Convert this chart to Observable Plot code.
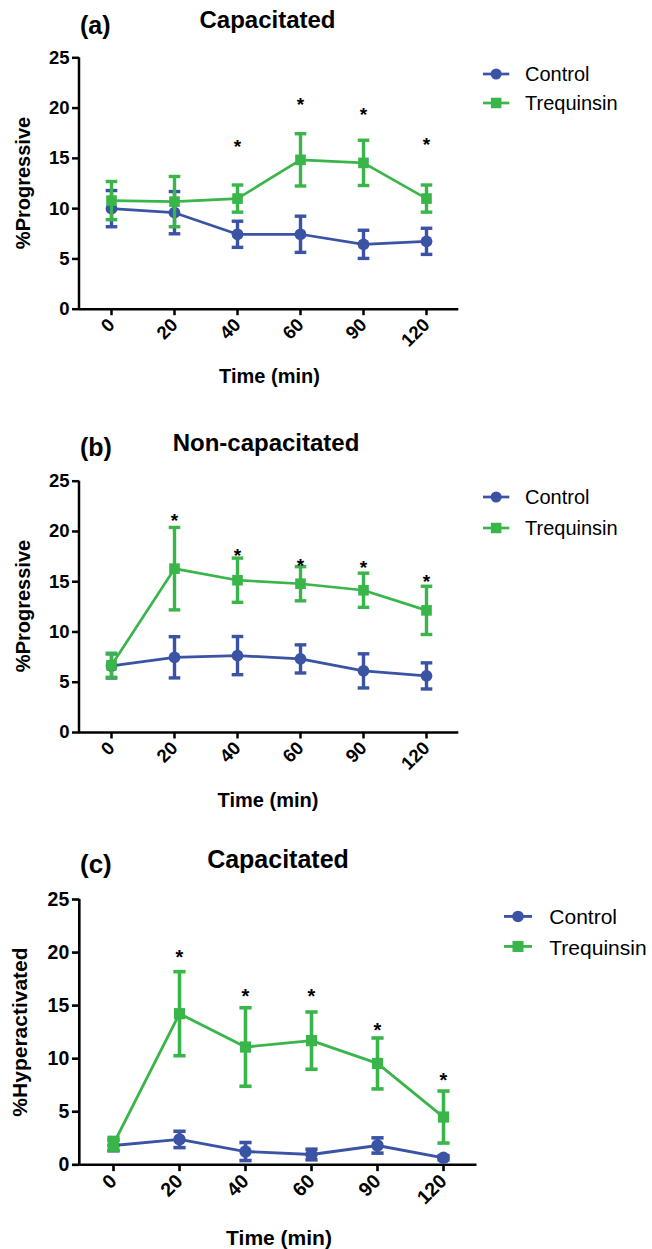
<!DOCTYPE html>
<html>
<head>
<meta charset="utf-8">
<script src="https://cdn.jsdelivr.net/npm/d3@7"></script>
<script src="https://cdn.jsdelivr.net/npm/@observablehq/plot@0.6"></script>
<style>
  html, body { margin: 0; padding: 0; background: #fff; }
  #root { position: relative; width: 652px; height: 1249px; overflow: hidden; font-family: "Liberation Sans", Arial, sans-serif; color: #000; }
  .t { position: absolute; white-space: nowrap; line-height: 1; transform: translate(-50%, -50%); }
  .tl { position: absolute; white-space: nowrap; line-height: 1; transform: translate(0, -50%); }
  .b { font-weight: bold; }
  .panel { position: absolute; left: 0; }
  .panel svg { overflow: visible; }
</style>
</head>
<body>
<div id="root"></div>
<script>
// ---------- data ----------
const times = ["0", "20", "40", "60", "90", "120"];
const groups = ["Control", "Trequinsin"];

// (a) Capacitated, %Progressive
const aControlMean = [10.0, 9.6, 7.45, 7.45, 6.45, 6.75];
const aControlErr  = [1.8, 2.1, 1.3, 1.8, 1.4, 1.3];
const aTreqMean    = [10.8, 10.7, 11.0, 14.85, 14.55, 11.0];
const aTreqErr     = [1.9, 2.5, 1.35, 2.6, 2.25, 1.35];
const aStars       = [null, null, 16.6, 20.75, 19.8, 16.8];

// (b) Non-capacitated, %Progressive
const bControlMean = [6.62, 7.48, 7.65, 7.32, 6.13, 5.63];
const bControlErr  = [1.2, 2.05, 1.9, 1.4, 1.7, 1.3];
const bTreqMean    = [6.69, 16.3, 15.15, 14.8, 14.15, 12.15];
const bTreqErr     = [1.2, 4.1, 2.2, 1.7, 1.7, 2.4];
const bStars       = [null, 21.55, 18.07, 17.0, 16.8, 15.4];

// (c) Capacitated, %Hyperactivated
const cControlMean = [1.82, 2.39, 1.25, 0.97, 1.82, 0.66];
const cControlErr  = [0.5, 0.77, 0.85, 0.5, 0.72, 0.2];
const cTreqMean    = [1.98, 14.24, 11.1, 11.7, 9.55, 4.5];
const cTreqErr     = [0.6, 3.96, 3.7, 2.7, 2.4, 2.45];
const cStars       = [null, 19.96, 16.35, 16.35, 13.08, 8.36];

const yTicks = [0, 5, 10, 15, 20, 25];
const xLabel = "Time (min)";

// ---------- styles ----------
const BLUE = "#3a53a4";
const GREEN = "#39b54a";
const FONT = "'Liberation Sans', Arial, sans-serif";

function rows(ctrlMean, ctrlErr, treqMean, treqErr) {
  const out = [];
  times.forEach((t, i) => out.push({time: t, group: groups[0], mean: ctrlMean[i], lo: ctrlMean[i] - ctrlErr[i], hi: ctrlMean[i] + ctrlErr[i]}));
  times.forEach((t, i) => out.push({time: t, group: groups[1], mean: treqMean[i], lo: treqMean[i] - treqErr[i], hi: treqMean[i] + treqErr[i]}));
  return out;
}
function starRows(stars) {
  return times.map((t, i) => ({time: t, y: stars[i]})).filter(d => d.y != null);
}

const capSymbol = {
  draw(context, size) {
    const r = Math.sqrt(size / Math.PI);
    context.moveTo(-r, 0);
    context.lineTo(r, 0);
  }
};

function seriesMarks(data, group, color, symbol, k) {
  const d = data.filter(r => r.group === group);
  return [
    Plot.line(d, {x: "time", y: "mean", stroke: color, strokeWidth: 2.7 * k}),
    Plot.ruleX(d, {x: "time", y1: "lo", y2: "hi", stroke: color, strokeWidth: 3.4 * k}),
    Plot.dot(d, {x: "time", y: "hi", symbol: capSymbol, r: 5.8 * k, stroke: color, strokeWidth: 3.4 * k, fill: "none"}),
    Plot.dot(d, {x: "time", y: "lo", symbol: capSymbol, r: 5.8 * k, stroke: color, strokeWidth: 3.4 * k, fill: "none"}),
    Plot.dot(d, {x: "time", y: "mean", symbol, r: (symbol === "square" ? 6.0 : 5.9) * k, fill: color, stroke: "none"})
  ];
}

// vertical y-axis line along the left edge of the frame, from y=0 to y=25
function yAxisLine(k) {
  return (index, scales, values, dimensions) => {
    const {marginLeft} = dimensions;
    const y0 = scales.y(0), y1 = scales.y(25);
    const g = d3.create("svg:g");
    g.append("line")
      .attr("x1", marginLeft).attr("x2", marginLeft)
      .attr("y1", y0 + 1.25 * k).attr("y2", y1)
      .attr("stroke", "#000").attr("stroke-width", 2.5 * k);
    return g.node();
  };
}

function panel(cfg) {
  const data = rows(...cfg.series);
  const k = cfg.k;
  const chart = Plot.plot({
    width: 652,
    height: cfg.height,
    marginTop: cfg.mt,
    marginBottom: cfg.mb,
    marginLeft: cfg.ml,
    marginRight: cfg.mr,
    x: {type: "point", domain: times, padding: 0.5},
    y: {domain: [0, 25]},
    style: {fontFamily: FONT, fontSize: (18 * k) + "px", fontWeight: "bold", color: "#000", background: "transparent", overflow: "visible"},
    marks: [
      Plot.axisY({ticks: yTicks, tickSize: 7 * k, tickPadding: 3 * k, strokeWidth: 2.5 * k, label: null, fontSize: 18.5 * k, fontWeight: "bold"}),
      Plot.axisX({tickSize: 6.5 * k, tickPadding: 6 * k, tickRotate: -45, strokeWidth: 2.5 * k, label: null, fontSize: 18.5 * k, fontWeight: "bold"}),
      Plot.ruleY([0], {stroke: "#000", strokeWidth: 2.5 * k}),
      yAxisLine(k),
      ...seriesMarks(data, groups[0], BLUE, "circle", k),
      ...seriesMarks(data, groups[1], GREEN, "square", k),
      Plot.text(starRows(cfg.stars), {x: "time", y: "y", text: () => "*", fontSize: 19 * k, fontWeight: "bold", fill: "#000", dy: 4.7 * k})
    ]
  });
  const div = document.createElement("div");
  div.className = "panel";
  div.style.top = cfg.top + "px";
  div.appendChild(chart);
  root.appendChild(div);
}

const root = document.getElementById("root");

function text(str, x, y, size, bold, cls = "t", rotate = false) {
  const el = document.createElement("div");
  el.className = cls + (bold ? " b" : "");
  el.textContent = str;
  el.style.left = x + "px";
  el.style.top = y + "px";
  el.style.fontSize = size + "px";
  if (rotate) el.style.transform = "translate(-50%, -50%) rotate(-90deg)";
  root.appendChild(el);
}

function legendRow(x1, x2, xText, cy, color, symbol, label, size, k) {
  const ns = "http://www.w3.org/2000/svg";
  const svg = document.createElementNS(ns, "svg");
  const w = x2 - x1 + 12, h = 16 * k;
  svg.setAttribute("width", w);
  svg.setAttribute("height", h);
  svg.style.position = "absolute";
  svg.style.left = (x1 - 6) + "px";
  svg.style.top = (cy - h / 2) + "px";
  const line = document.createElementNS(ns, "line");
  line.setAttribute("x1", 6); line.setAttribute("x2", w - 6);
  line.setAttribute("y1", h / 2); line.setAttribute("y2", h / 2);
  line.setAttribute("stroke", color); line.setAttribute("stroke-width", 2.7 * k);
  svg.appendChild(line);
  const cx = w / 2;
  if (symbol === "circle") {
    const c = document.createElementNS(ns, "circle");
    c.setAttribute("cx", cx); c.setAttribute("cy", h / 2); c.setAttribute("r", 5.5 * k);
    c.setAttribute("fill", color);
    svg.appendChild(c);
  } else {
    const s = 10.5 * k;
    const r = document.createElementNS(ns, "rect");
    r.setAttribute("x", cx - s / 2); r.setAttribute("y", h / 2 - s / 2);
    r.setAttribute("width", s); r.setAttribute("height", s);
    r.setAttribute("fill", color);
    svg.appendChild(r);
  }
  root.appendChild(svg);
  text(label, xText, cy, size, false, "tl");
}

// ---------- panels ----------
panel({top: 0, height: 360, mt: 57.3, mb: 51.3, ml: 79, mr: 193.7, k: 1,
  series: [aControlMean, aControlErr, aTreqMean, aTreqErr], stars: aStars});
panel({top: 420, height: 365, mt: 60.7, mb: 53, ml: 79, mr: 193.7, k: 1,
  series: [bControlMean, bControlErr, bTreqMean, bTreqErr], stars: bStars});
panel({top: 840, height: 380, mt: 59, mb: 55.7, ml: 79.3, mr: 175.5, k: 1.053,
  series: [cControlMean, cControlErr, cTreqMean, cTreqErr], stars: cStars});

// titles and labels
text("(a)", 80, 25, 25, true, "tl");
text("Capacitated", 267.5, 19.5, 24, true);
text("%Progressive", 23.3, 182.5, 20, true, "t", true);
text(xLabel, 269.5, 376, 20, true);

text("(b)", 80, 447, 25, true, "tl");
text("Non-capacitated", 266, 443, 24, true);
text("%Progressive", 23, 605.5, 20, true, "t", true);
text(xLabel, 268, 800, 20, true);

text("(c)", 80, 864, 26, true, "tl");
text("Capacitated", 278, 859, 25, true);
text("%Hyperactivated", 19, 1031.5, 21, true, "t", true);
text(xLabel, 279, 1237, 21, true);

// legends
legendRow(482.7, 509, 525, 74.3, BLUE, "circle", groups[0], 20, 1);
legendRow(482.7, 509, 525, 102.7, GREEN, "square", groups[1], 20, 1);
legendRow(482.7, 509, 525, 497.3, BLUE, "circle", groups[0], 20, 1);
legendRow(482.7, 509, 525, 527.7, GREEN, "square", groups[1], 20, 1);
legendRow(504.3, 532.3, 549.3, 916, BLUE, "circle", groups[0], 21, 1.053);
legendRow(504.3, 532.3, 549.3, 946.7, GREEN, "square", groups[1], 21, 1.053);
</script>
</body>
</html>
